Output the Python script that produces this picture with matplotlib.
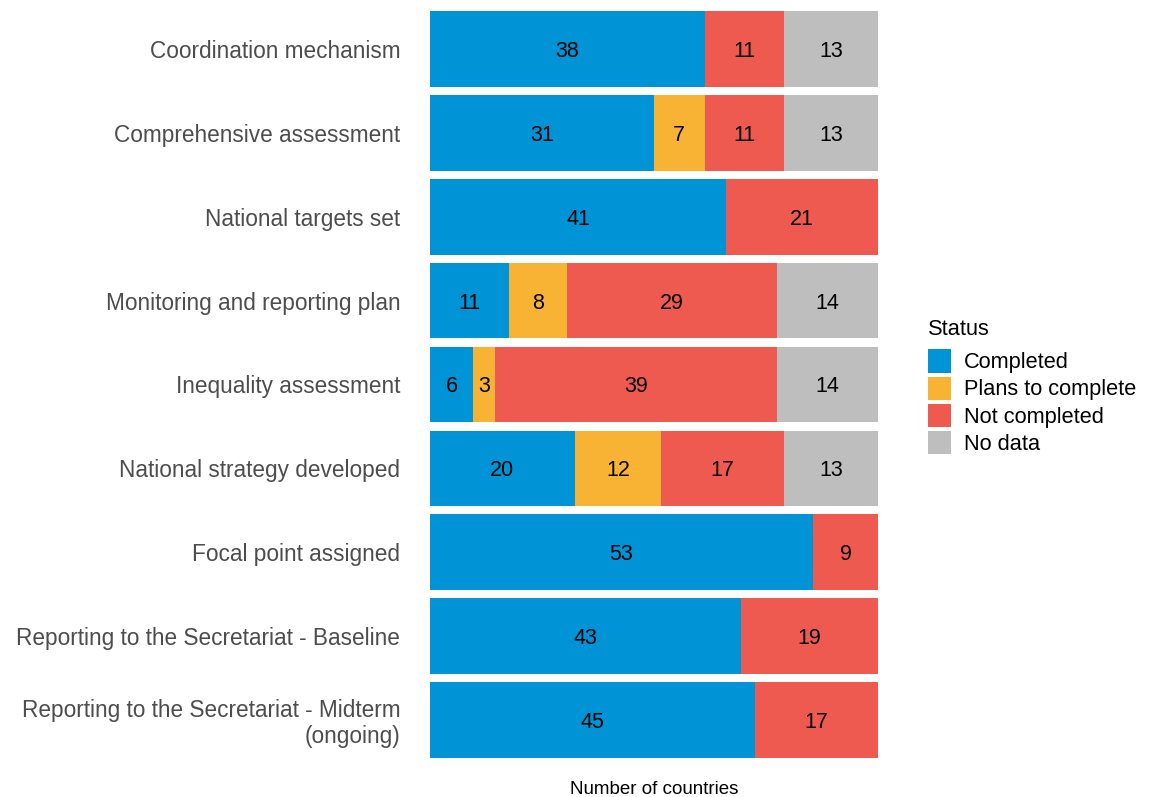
import matplotlib
matplotlib.use("Agg")
import matplotlib.pyplot as plt
from matplotlib.patches import Patch
import numpy as np

plt.rcParams['font.family'] = ['Liberation Sans', 'DejaVu Sans']

categories = [
    "Coordination mechanism",
    "Comprehensive assessment",
    "National targets set",
    "Monitoring and reporting plan",
    "Inequality assessment",
    "National strategy developed",
    "Focal point assigned",
    "Reporting to the Secretariat - Baseline",
    "Reporting to the Secretariat - Midterm\n(ongoing)",
]
statuses = ["Completed", "Plans to complete", "Not completed", "No data"]
completed = [38, 31, 41, 11, 6, 20, 53, 43, 45]
plans = [0, 7, 0, 8, 3, 12, 0, 0, 0]
not_completed = [11, 11, 21, 29, 39, 17, 9, 19, 17]
no_data = [13, 13, 0, 14, 14, 13, 0, 0, 0]
colors = ["#0093D6", "#F8B334", "#EE5A50", "#BEBEBE"]

series = [completed, plans, not_completed, no_data]

fig = plt.figure(figsize=(11.49, 7.97), dpi=100)
ax = fig.add_axes([430/1149, 1 - 757.7/797, 448/1149, (757.7 - 11.3)/797])

y = np.arange(len(categories))
left = np.zeros(len(categories))
for vals, col in zip(series, colors):
    vals = np.array(vals, dtype=float)
    ax.barh(y, vals, left=left, height=0.9, color=col, edgecolor='none')
    for yi, l, v in zip(y, left, vals):
        if v > 0:
            ax.text(l + v / 2, yi, f"{int(v)}", ha='center', va='center_baseline',
                    fontsize=15.5, color='black')
    left += vals

ax.set_xlim(0, 62)
ax.set_ylim(len(categories) - 0.55, -0.45)
ax.set_yticks(y)
ax.set_yticklabels(categories, fontsize=16.3, color='#4D4D4D', ha='right',
                   linespacing=1.15)
ax.tick_params(axis='y', length=0, pad=21.5)
ax.tick_params(axis='x', length=0, labelbottom=False)
for s in ax.spines.values():
    s.set_visible(False)
ax.set_xlabel("Number of countries", fontsize=13.5, color='black', labelpad=17)

handles = [Patch(facecolor=c, edgecolor='none') for c in colors]
leg = fig.legend(handles, statuses, loc='upper left',
                 bbox_to_anchor=(919/1149, 1 - 310/797), frameon=False,
                 title="Status", fontsize=15.7, title_fontsize=15.7,
                 handlelength=1.05, handleheight=1.25, labelspacing=0.15,
                 handletextpad=0.6, alignment='left', borderaxespad=0)
leg._legend_box.sep = 7

fig.savefig("out.png", dpi=100)
